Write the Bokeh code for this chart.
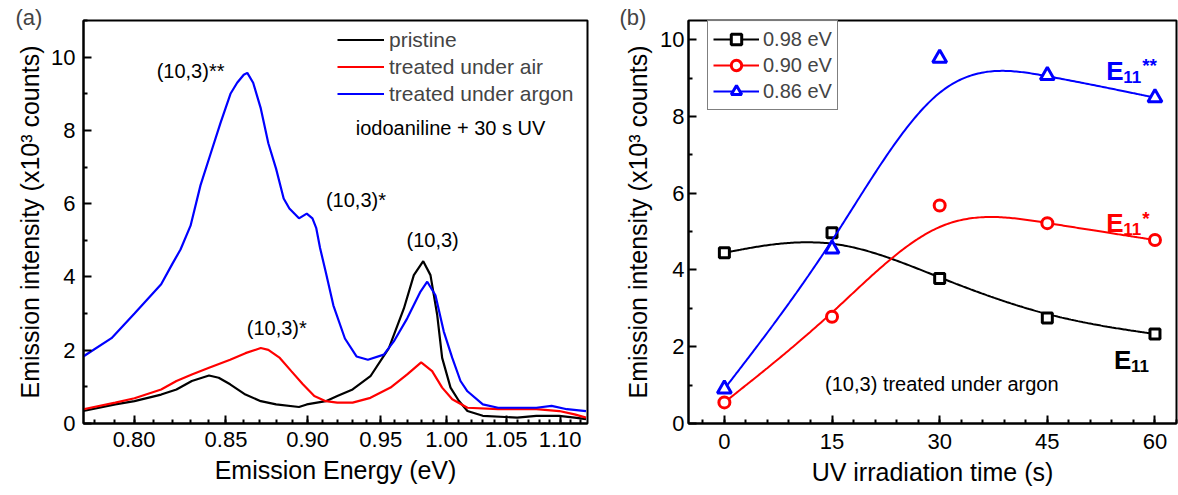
import numpy as np
from bokeh.plotting import figure
from bokeh.layouts import row
from bokeh.models import (Range1d, FixedTicker, CustomJSTickFormatter, Legend,
                          LegendItem, Label, Title)
from bokeh.embed import file_html
from bokeh.resources import INLINE

# ---------------- (a) emission spectra, intensity in 10^3 counts ----------------
energy_pristine = [0.7748, 0.7905, 0.8002, 0.8141, 0.8223, 0.8307, 0.8403, 0.8458, 0.8524,
                   0.8614, 0.8706, 0.8800, 0.8944, 0.8994, 0.9119, 0.9196, 0.9301, 0.9426,
                   0.9559, 0.9670, 0.9745, 0.9817, 0.9873, 0.9926, 0.9965, 1.0032, 1.0099,
                   1.0170, 1.0299, 1.0599, 1.0774, 1.0991, 1.1142, 1.1256]
counts_pristine = [0.34, 0.52, 0.61, 0.79, 0.93, 1.16, 1.31, 1.25, 1.07, 0.79, 0.61, 0.52,
                   0.45, 0.52, 0.61, 0.75, 0.93, 1.29, 2.06, 3.14, 4.05, 4.43, 4.05, 2.96,
                   1.79, 0.98, 0.62, 0.34, 0.21, 0.16, 0.21, 0.21, 0.16, 0.12]

energy_air = [0.7748, 0.7905, 0.8002, 0.8141, 0.8223, 0.8307, 0.8403, 0.8524, 0.8614, 0.8706,
              0.8752, 0.8823, 0.8895, 0.8969, 0.9043, 0.9119, 0.9196, 0.9301, 0.9426, 0.9571,
              0.9695, 0.9801, 0.9886, 0.9965, 1.0046, 1.0170, 1.0430, 1.0774, 1.0991, 1.1142,
              1.1256]
counts_air = [0.39, 0.57, 0.69, 0.93, 1.16, 1.34, 1.52, 1.74, 1.92, 2.06, 2.01, 1.79, 1.43,
              1.07, 0.75, 0.61, 0.57, 0.57, 0.70, 0.98, 1.34, 1.67, 1.43, 0.98, 0.66, 0.43,
              0.39, 0.39, 0.34, 0.25, 0.16]

energy_argon = [0.7748, 0.7886, 0.8002, 0.8141, 0.8200, 0.8245, 0.8300, 0.8355, 0.8411, 0.8468,
                0.8526, 0.8565, 0.8604, 0.8625, 0.8660, 0.8706, 0.8752, 0.8800, 0.8847, 0.8883,
                0.8944, 0.8994, 0.9031, 0.9056, 0.9081, 0.9119, 0.9170, 0.9248, 0.9328, 0.9408,
                0.9522, 0.9595, 0.9695, 0.9796, 0.9848, 0.9912, 0.9978, 1.0046, 1.0113, 1.0170,
                1.0299, 1.0430, 1.0774, 1.0918, 1.1066, 1.1256]
counts_argon = [1.83, 2.33, 3.00, 3.80, 4.35, 4.75, 5.40, 6.50, 7.35, 8.20, 9.00, 9.30, 9.52,
                9.57, 9.30, 8.60, 7.65, 6.95, 6.14, 5.87, 5.60, 5.73, 5.60, 5.33, 4.79, 4.13,
                3.22, 2.32, 1.83, 1.74, 1.88, 2.24, 2.87, 3.60, 3.87, 3.50, 2.51, 1.79, 1.16,
                0.88, 0.52, 0.43, 0.43, 0.48, 0.39, 0.34]

energy_ticks = [0.80, 0.85, 0.90, 0.95, 1.00, 1.05, 1.10]
energy_minor = [round(0.78 + 0.01 * i, 2) for i in range(35)]
wavelength_window = (1600, 1100)        # nm, spectrometer window (axis runs in wavelength)
intensity_ticks = [0, 2, 4, 6, 8, 10]

# ---------------- (b) band intensities vs UV irradiation time ----------------
uv_time = [0, 15, 30, 45, 60]
band_098 = [4.45, 4.97, 3.78, 2.75, 2.33]
band_090 = [0.55, 2.78, 5.68, 5.22, 4.78]
band_086 = [0.90, 4.55, 9.52, 9.07, 8.49]
time_ticks = [0, 15, 30, 45, 60]

HC = 1239.84                             # eV*nm
FONT = "Liberation Sans"
BLACK, RED, BLUE = "#000000", "#ff0000", "#0000ff"


def to_nm(e):
    return HC / np.asarray(e, dtype=float)


def bspline(xs, ys, samples=60):
    """Uniform cubic B-spline with tripled end points (curve starts/ends on them)."""
    P = np.column_stack([xs, ys]).astype(float)
    P = np.vstack([P[0], P[0], P] + [P[-1], P[-1]])
    t = np.linspace(0, 1, samples)
    b0 = (1 - t) ** 3 / 6
    b1 = (3 * t ** 3 - 6 * t ** 2 + 4) / 6
    b2 = (-3 * t ** 3 + 3 * t ** 2 + 3 * t + 1) / 6
    b3 = t ** 3 / 6
    segs = [np.outer(b0, P[i]) + np.outer(b1, P[i + 1]) + np.outer(b2, P[i + 2]) +
            np.outer(b3, P[i + 3]) for i in range(len(P) - 3)]
    c = np.vstack(segs)
    return c[:, 0], c[:, 1]


def style_axes(p):
    p.xgrid.visible = False
    p.ygrid.visible = False
    p.outline_line_color = "black"
    p.outline_line_width = 2
    p.background_fill_color = "white"
    p.border_fill_color = "white"
    for ax in (p.xaxis[0], p.yaxis[0]):
        ax.axis_line_width = 2
        ax.major_tick_in = 8
        ax.major_tick_out = 0
        ax.minor_tick_in = 4
        ax.minor_tick_out = 0
        ax.major_tick_line_width = 2
        ax.minor_tick_line_width = 2
        ax.major_label_text_font = FONT
        ax.major_label_text_font_size = "22px"
        ax.major_label_text_color = "black"


def side_title(p, text, place, standoff, offset=0, size="25px"):
    p.add_layout(Title(text=text, align="center", offset=offset, standoff=standoff,
                       text_font=FONT, text_font_size=size, text_font_style="normal",
                       text_color="black"), place)


def panel_tag(p, text, offset):
    p.title.text = text
    p.title.align = "left"
    p.title.offset = offset
    p.title.standoff = -19
    p.title.text_font = FONT
    p.title.text_font_size = "22px"
    p.title.text_font_style = "normal"


def add_text(p, x, y, text, size="20px", color="black", align="center",
             baseline="middle", bold=False, xo=0, yo=0):
    p.add_layout(Label(x=x, y=y, text=text, text_font=FONT, text_font_size=size,
                       text_color=color, text_align=align, text_baseline=baseline,
                       text_font_style="bold" if bold else "normal",
                       x_offset=xo, y_offset=yo))


# ================= panel (a) =================
pa = figure(width=600, height=495, x_range=Range1d(*wavelength_window), y_range=Range1d(0, 11),
            output_backend="svg", toolbar_location=None,
            min_border_left=83, min_border_right=13, min_border_top=20, min_border_bottom=69)
style_axes(pa)
pa.xaxis.ticker = FixedTicker(ticks=list(to_nm(energy_ticks)), minor_ticks=list(to_nm(energy_minor)))
pa.xaxis.formatter = CustomJSTickFormatter(code="return (1239.84 / tick).toFixed(2);")
pa.yaxis.ticker = FixedTicker(ticks=intensity_ticks, minor_ticks=[1, 3, 5, 7, 9, 11])
pa.xaxis.major_label_standoff = 8
pa.yaxis.major_label_standoff = 8
side_title(pa, "Emission Energy (eV)", "below", standoff=8)
side_title(pa, "Emission intensity (x10³ counts)", "left", standoff=9, offset=-17)
panel_tag(pa, "(a)", -68)

r_pr = pa.line(to_nm(energy_pristine), counts_pristine, line_color=BLACK, line_width=2.2)
r_air = pa.line(to_nm(energy_air), counts_air, line_color=RED, line_width=2.2)
r_ar = pa.line(to_nm(energy_argon), counts_argon, line_color=BLUE, line_width=2.2)

leg_a = Legend(items=[LegendItem(label="pristine", renderers=[r_pr]),
                      LegendItem(label="treated under air", renderers=[r_air]),
                      LegendItem(label="treated under argon", renderers=[r_ar])],
               location=(254, 317), border_line_color=None, background_fill_alpha=0,
               label_text_font=FONT, label_text_font_size="21px", glyph_width=47,
               glyph_height=25, label_height=25, spacing=2, padding=0, margin=0,
               label_standoff=5)
pa.add_layout(leg_a)

add_text(pa, HC / 1.0032, 8.06, "iodoaniline + 30 s UV")
add_text(pa, HC / 0.8300, 9.63, "(10,3)**")
add_text(pa, HC / 0.9324, 6.09, "(10,3)*")
add_text(pa, HC / 0.9890, 5.00, "(10,3)")
add_text(pa, HC / 0.8804, 2.60, "(10,3)*")

# ================= panel (b) =================
pb = figure(width=578, height=495, x_range=Range1d(-5, 63), y_range=Range1d(0, 10.5),
            output_backend="svg", toolbar_location=None,
            min_border_left=88, min_border_right=2, min_border_top=10, min_border_bottom=72)
style_axes(pb)
pb.xaxis.ticker = FixedTicker(ticks=time_ticks, minor_ticks=list(range(-3, 64, 3)))
pb.yaxis.ticker = FixedTicker(ticks=intensity_ticks, minor_ticks=[1, 3, 5, 7, 9])
pb.xaxis.major_label_standoff = 10
pb.yaxis.major_label_standoff = 4
side_title(pb, "UV irradiation time (s)", "below", standoff=8, offset=11)
side_title(pb, "Emission intensity (x10³ counts)", "left", standoff=12, offset=-17)
panel_tag(pb, "(b)", -69)

series = [(band_098, BLACK, "square", 10, "0.98 eV"),
          (band_090, RED, "circle", 11, "0.90 eV"),
          (band_086, BLUE, "triangle", 14, "0.86 eV")]
items = []
for vals, col, mk, sz, lab in series:
    cx, cy = bspline(uv_time, vals)
    rl = pb.line(cx, cy, line_color=col, line_width=2)
    rs = pb.scatter(uv_time, vals, marker=mk, size=sz, line_color=col, line_width=3,
                    fill_color="white")
    items.append(LegendItem(label=lab, renderers=[rl, rs]))

leg_b = Legend(items=items, location=(19, 313), border_line_color="black",
               border_line_width=1.5, background_fill_color="white",
               label_text_font=FONT, label_text_font_size="20px", glyph_width=46,
               glyph_height=26, label_height=26, spacing=-1, padding=5, margin=0,
               label_standoff=4)
pb.add_layout(leg_b)

add_text(pb, 30.3, 1.04, "(10,3) treated under argon")

# band labels: E with subscript 11 and superscript stars
for x, y, col, stars in [(53.2, 9.19, BLUE, "**"), (53.2, 5.22, RED, "*"), (54.3, 1.65, BLACK, "")]:
    add_text(pb, x, y, "E", size="26px", color=col, align="left", baseline="alphabetic", bold=True)
    add_text(pb, x, y, "11", size="17px", color=col, align="left", baseline="alphabetic",
             bold=True, xo=17, yo=-6)
    if stars:
        add_text(pb, x, y, stars, size="19px", color=col, align="left", baseline="alphabetic",
                 bold=True, xo=36, yo=5)

layout = row(pa, pb)
open("out.html", "w").write(file_html(layout, INLINE))
